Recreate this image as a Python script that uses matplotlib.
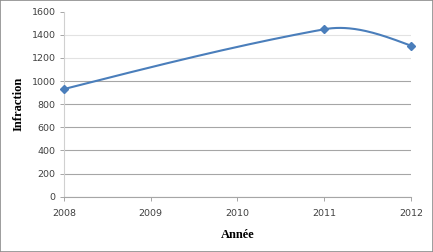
import numpy as np
import matplotlib
matplotlib.use("Agg")
import matplotlib.pyplot as plt
from matplotlib.patches import Rectangle

years = [2008, 2011, 2012]
infractions = [931, 1448, 1306]
y_ticks = [0, 200, 400, 600, 800, 1000, 1200, 1400, 1600]
x_ticks = [2008, 2009, 2010, 2011, 2012]
x_label = "Année"
y_label = "Infraction"

def smooth_curve(xs, ys, tension=1.45, n=80):
    """Cubic Hermite smoothing: scaled Catmull-Rom slopes inside, natural ends."""
    x = np.asarray(xs, float)
    y = np.asarray(ys, float)
    m = len(x)
    d = np.diff(y) / np.diff(x)
    s = np.zeros(m)
    for i in range(1, m - 1):
        s[i] = tension * (y[i + 1] - y[i - 1]) / (x[i + 1] - x[i - 1])
    s[0] = (3 * d[0] - s[1]) / 2
    s[-1] = (3 * d[-1] - s[-2]) / 2
    ox, oy = [], []
    for i in range(m - 1):
        h = x[i + 1] - x[i]
        t = np.linspace(0, 1, n)
        h00 = 2 * t**3 - 3 * t**2 + 1
        h10 = t**3 - 2 * t**2 + t
        h01 = -2 * t**3 + 3 * t**2
        h11 = t**3 - t**2
        yy = h00 * y[i] + h10 * h * s[i] + h01 * y[i + 1] + h11 * h * s[i + 1]
        xx = x[i] + t * h
        if i > 0:
            xx, yy = xx[1:], yy[1:]
        ox.append(xx)
        oy.append(yy)
    return np.concatenate(ox), np.concatenate(oy)

fig = plt.figure(figsize=(4.33, 2.52), dpi=100)
ax = fig.add_axes([0.1478, 0.2194, 0.8012, 0.7342])

sx, sy = smooth_curve(years, infractions)
color = "#4A7EBB"
ax.plot(sx, sy, color=color, lw=1.5, solid_capstyle="round", zorder=3, clip_on=False)
ax.plot(years, infractions, linestyle="none", marker="D", ms=4.5, color=color, zorder=4, clip_on=False)

ax.set_xlim(2008, 2012)
ax.set_ylim(0, 1600)
ax.set_xticks(x_ticks)
ax.set_yticks(y_ticks)
ax.set_xticklabels([str(v) for v in x_ticks])
ax.set_yticklabels([str(v) for v in y_ticks])

ax.yaxis.grid(True, color="#a6a6a6", lw=0.8)
for v, gl in zip(y_ticks, ax.get_ygridlines()):
    if v in (1200, 1400):
        gl.set_color("#e2e2e2")
    if v == 1600:
        gl.set_visible(False)
ax.set_axisbelow(True)

for s in ["top", "right"]:
    ax.spines[s].set_visible(False)
ax.spines["left"].set_color("#d0d0d0")
ax.spines["left"].set_linewidth(0.8)
ax.spines["bottom"].set_color("#a6a6a6")
ax.spines["bottom"].set_linewidth(0.8)

ax.tick_params(axis="both", labelsize=6.8, colors="#404040", length=3, width=0.7, pad=3)
ax.tick_params(axis="y", color="#a6a6a6")
ax.tick_params(axis="x", color="#a6a6a6", pad=5.5)

ax.set_xlabel(x_label, fontfamily="Liberation Serif", fontweight="bold", fontsize=9, labelpad=8)
ax.set_ylabel(y_label, fontfamily="Liberation Serif", fontweight="bold", fontsize=9, labelpad=5)

fig.patches.append(Rectangle((0, 0), 1, 1, transform=fig.transFigure, fill=False,
                             edgecolor="#8c8c8c", lw=1.2))

fig.savefig("out.png", dpi=100)
